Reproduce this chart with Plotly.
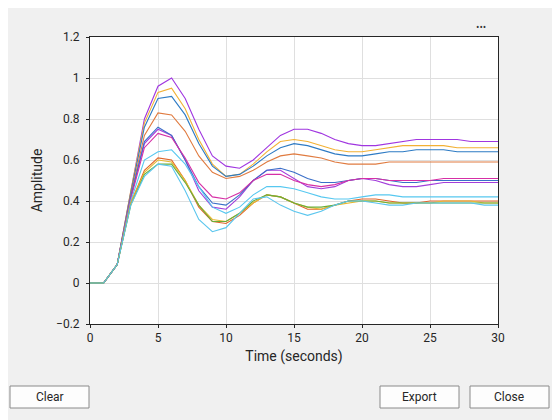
import plotly.graph_objects as go

t = list(range(31))
head = [0, 0, 0.09]
s = {
 "A": head + [0.45, 0.80, 0.96, 1.00, 0.90, 0.75, 0.62, 0.57, 0.56, 0.60, 0.66, 0.72, 0.75, 0.75, 0.73, 0.70, 0.68, 0.67, 0.67, 0.68, 0.69, 0.70, 0.70, 0.70, 0.70, 0.69, 0.69, 0.69],
 "B": head + [0.45, 0.78, 0.93, 0.95, 0.85, 0.70, 0.58, 0.52, 0.53, 0.58, 0.64, 0.69, 0.70, 0.69, 0.67, 0.65, 0.64, 0.64, 0.65, 0.66, 0.67, 0.67, 0.67, 0.67, 0.66, 0.66, 0.66, 0.66],
 "C": head + [0.44, 0.76, 0.90, 0.91, 0.82, 0.68, 0.57, 0.52, 0.53, 0.57, 0.62, 0.66, 0.68, 0.67, 0.65, 0.63, 0.62, 0.62, 0.63, 0.64, 0.64, 0.65, 0.65, 0.65, 0.64, 0.64, 0.64, 0.64],
 "D": head + [0.43, 0.72, 0.83, 0.82, 0.74, 0.62, 0.54, 0.51, 0.52, 0.55, 0.59, 0.62, 0.63, 0.62, 0.61, 0.59, 0.58, 0.58, 0.58, 0.59, 0.59, 0.59, 0.59, 0.59, 0.59, 0.59, 0.59, 0.59],
 "E": head + [0.42, 0.68, 0.75, 0.72, 0.60, 0.45, 0.37, 0.36, 0.42, 0.50, 0.55, 0.55, 0.51, 0.47, 0.46, 0.47, 0.50, 0.51, 0.50, 0.48, 0.47, 0.47, 0.48, 0.49, 0.49, 0.49, 0.49, 0.49],
 "F": head + [0.42, 0.69, 0.76, 0.72, 0.60, 0.47, 0.39, 0.38, 0.43, 0.50, 0.55, 0.56, 0.54, 0.51, 0.49, 0.49, 0.50, 0.51, 0.51, 0.50, 0.49, 0.49, 0.50, 0.50, 0.50, 0.50, 0.50, 0.50],
 "G": head + [0.41, 0.66, 0.73, 0.71, 0.61, 0.49, 0.42, 0.41, 0.44, 0.50, 0.53, 0.53, 0.50, 0.48, 0.47, 0.48, 0.50, 0.51, 0.51, 0.50, 0.50, 0.50, 0.50, 0.51, 0.51, 0.51, 0.51, 0.51],
 "H": head + [0.40, 0.60, 0.64, 0.65, 0.58, 0.47, 0.37, 0.34, 0.37, 0.43, 0.47, 0.47, 0.46, 0.44, 0.42, 0.41, 0.41, 0.42, 0.43, 0.43, 0.42, 0.42, 0.42, 0.42, 0.42, 0.42, 0.42, 0.42],
 "I": head + [0.39, 0.55, 0.61, 0.60, 0.50, 0.37, 0.30, 0.29, 0.33, 0.39, 0.43, 0.42, 0.39, 0.36, 0.36, 0.38, 0.40, 0.41, 0.41, 0.40, 0.39, 0.39, 0.40, 0.40, 0.40, 0.40, 0.40, 0.40],
 "L": head + [0.39, 0.54, 0.60, 0.59, 0.50, 0.38, 0.31, 0.30, 0.34, 0.39, 0.43, 0.42, 0.39, 0.37, 0.36, 0.38, 0.39, 0.40, 0.40, 0.39, 0.39, 0.39, 0.39, 0.40, 0.40, 0.40, 0.39, 0.39],
 "J": head + [0.38, 0.53, 0.58, 0.58, 0.49, 0.38, 0.30, 0.30, 0.34, 0.40, 0.43, 0.42, 0.39, 0.37, 0.37, 0.38, 0.40, 0.40, 0.40, 0.39, 0.39, 0.39, 0.39, 0.39, 0.39, 0.39, 0.39, 0.39],
 "K": head + [0.38, 0.52, 0.58, 0.57, 0.45, 0.31, 0.25, 0.27, 0.34, 0.41, 0.42, 0.38, 0.35, 0.33, 0.35, 0.38, 0.40, 0.40, 0.39, 0.38, 0.38, 0.39, 0.39, 0.39, 0.39, 0.39, 0.38, 0.38],
}
colors = {"A": "#A036E0", "B": "#F2B134", "C": "#2E7BC4", "D": "#E07B40", "E": "#A33DDB",
          "F": "#3A6FC8", "G": "#D62FA6", "H": "#57C8F0", "I": "#E0652A", "L": "#E8B830",
          "J": "#6AAE3A", "K": "#5BC6EE"}

fig = go.Figure()
for k, v in s.items():
    fig.add_trace(go.Scatter(x=t, y=v, mode="lines", line=dict(color=colors[k], width=1.1),
                             showlegend=False, hoverinfo="skip"))

ax = dict(showline=True, mirror=True, linecolor="#262626", linewidth=1, gridcolor="#DFDFDF",
          ticks="outside", ticklen=3, tickcolor="#262626", zeroline=False, automargin=False,
          tickfont=dict(family="Roboto", size=12, color="#262626"))
fig.update_xaxes(range=[0, 30], dtick=5, title=dict(text="Time (seconds)", font=dict(family="Roboto", size=14, color="#262626"), standoff=6), **ax)
fig.update_yaxes(range=[-0.2, 1.2], dtick=0.2, tickformat=".1~f", ticklabelstandoff=4, title=dict(text="Amplitude", font=dict(family="Roboto", size=14, color="#262626"), standoff=10), **ax)

shapes, anns = [], []
for x0, x1, lab in [(10, 89, "Clear"), (380, 459, "Export"), (470, 549, "Close")]:
    shapes.append(dict(type="rect", xref="paper", yref="paper",
                       x0=(x0-90)/408, x1=(x1-90)/408, y0=(324-386)/287, y1=(324-408)/287,
                       fillcolor="#FDFDFD", line=dict(color="#8A8A8A", width=1)))
    anns.append(dict(text=lab, xref="paper", yref="paper", x=((x0+x1)/2-90)/408, y=(324-397)/287,
                     yanchor="middle", xanchor="center",
                     showarrow=False, font=dict(family="Roboto", size=12, color="#262626")))
anns.append(dict(text="•••", xref="paper", yref="paper", x=(488-90)/408, y=(324-26)/287,
                 yanchor="middle", showarrow=False, font=dict(size=9, color="#333")))
fig.update_layout(width=552, height=412, margin=dict(l=82, r=62, t=29, b=96, autoexpand=False),
                  paper_bgcolor="#F0F0F0", plot_bgcolor="white", shapes=shapes, annotations=anns)
fig.write_html("out.html")
